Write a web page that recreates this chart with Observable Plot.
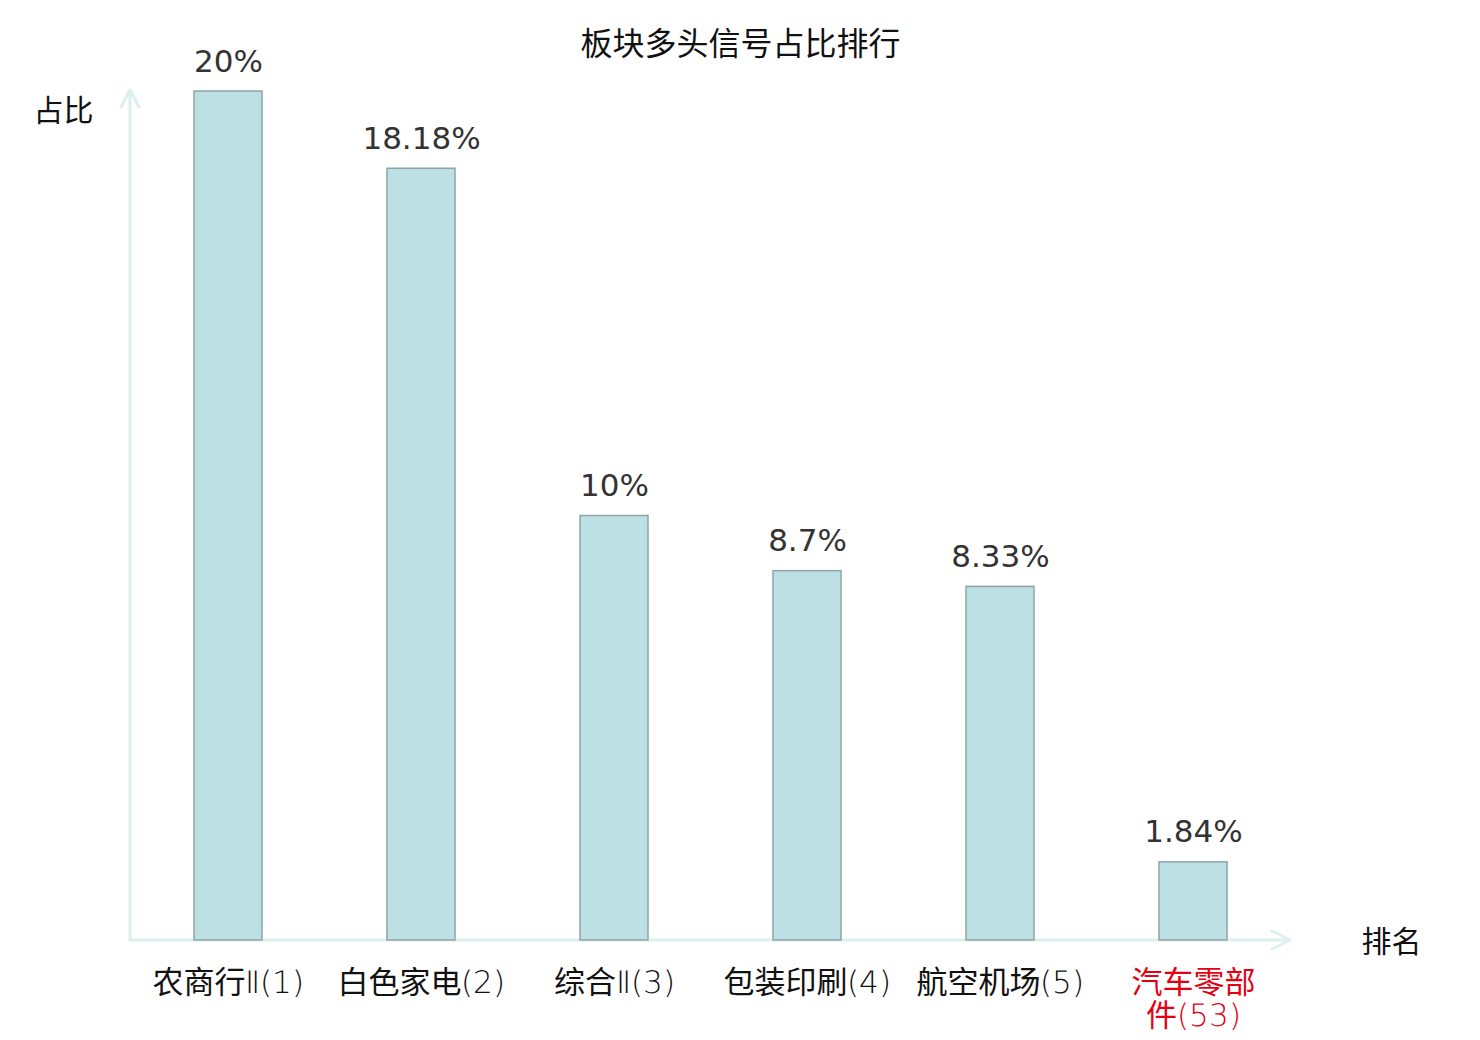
<!DOCTYPE html>
<html>
<head>
<meta charset="utf-8">
<script src="https://cdn.jsdelivr.net/npm/d3@7"></script>
<script src="https://cdn.jsdelivr.net/npm/@observablehq/plot@0.6"></script>
<style>
  html, body { margin: 0; padding: 0; background: #fff; }
  #chart svg { display: block; }
  @font-face {
    font-family: "RomanNum";
    src: local("DejaVu Sans ExtraLight"), local("DejaVuSans-ExtraLight"), local("DejaVu Sans");
    unicode-range: U+2160-217F;
  }
  @font-face {
    font-family: "ThinLatin";
    src: local("DejaVu Sans ExtraLight"), local("DejaVuSans-ExtraLight");
    unicode-range: U+0020-007F;
  }
</style>
</head>
<body>
<div id="chart"></div>
<script>
const categories = ["农商行Ⅱ", "白色家电", "综合Ⅱ", "包装印刷", "航空机场", "汽车零部件"];
const ranks = [1, 2, 3, 4, 5, 53];
const values = [20, 18.18, 10, 8.7, 8.33, 1.84];
const valueLabels = ["20%", "18.18%", "10%", "8.7%", "8.33%", "1.84%"];
const tickLabels = ["农商行Ⅱ(1)", "白色家电(2)", "综合Ⅱ(3)", "包装印刷(4)", "航空机场(5)", "汽车零部\n件(53)"];
const highlight = [false, false, false, false, false, true];

const title = "板块多头信号占比排行";
const yLabel = "占比";
const xLabel = "排名";

const data = categories.map((c, i) => ({
  name: c, rank: ranks[i], value: values[i],
  vlabel: valueLabels[i], tlabel: tickLabels[i], hl: highlight[i]
}));

const axisColor = "#dcf1ee";
const cjk = "'Noto Sans CJK SC', 'Noto Sans', sans-serif";
const tickFont = "RomanNum, ThinLatin, 'Noto Sans CJK SC', sans-serif";

function axisArrows(index, scales, values, dim) {
  const x0 = dim.marginLeft;
  const y0 = dim.height - dim.marginBottom;
  const top = dim.marginTop;
  const right = dim.width - dim.marginRight;
  const g = d3.create("svg:g")
    .attr("fill", "none")
    .attr("stroke", axisColor)
    .attr("stroke-width", 3)
    .attr("stroke-linecap", "round")
    .attr("stroke-linejoin", "round");
  g.append("path").attr("d", `M${x0},${y0}V${top}M${x0 - 9},${top + 17}L${x0},${top}L${x0 + 9},${top + 17}`);
  g.append("path").attr("d", `M${x0},${y0}H${right}M${right - 18},${y0 - 9}L${right},${y0}L${right - 18},${y0 + 9}`);
  return g.node();
}

const chart = Plot.plot({
  width: 1480,
  height: 1040,
  marginLeft: 130,
  marginRight: 190,
  marginTop: 90,
  marginBottom: 100,
  style: { background: "#fff", overflow: "visible" },
  x: { type: "band", domain: categories, paddingInner: 0.65, paddingOuter: 0.325, axis: null },
  y: { domain: [0, 20], range: [940, 91], axis: null },
  marks: [
    axisArrows,
    Plot.barY(data, { x: "name", y: "value", fill: "#bce0e3", stroke: "#8ca6a7", strokeWidth: 1.5 }),
    Plot.text(data, { x: "name", y: "value", text: "vlabel", lineAnchor: "bottom", dy: -20,
      fontSize: 31, fill: "#333", fontFamily: "'DejaVu Sans', sans-serif" }),
    Plot.text(data, { x: "name", y: () => 0, text: "tlabel", lineAnchor: "top", dy: 29, lineHeight: 1.06,
      fontSize: 31, fill: d => d.hl ? "#e50012" : "#111", fontFamily: tickFont }),
    Plot.text([title], { frameAnchor: "top", text: d => d, dx: 30, dy: -58, fontSize: 32, fill: "#111", fontFamily: cjk }),
    Plot.text([yLabel], { frameAnchor: "top-left", text: d => d, textAnchor: "middle", dx: -67, dy: 9, fontSize: 30, fill: "#111", fontFamily: cjk }),
    Plot.text([xLabel], { frameAnchor: "bottom-right", text: d => d, textAnchor: "middle", dx: 101, dy: 11, fontSize: 30, fill: "#111", fontFamily: cjk })
  ]
});
document.getElementById("chart").appendChild(chart);
</script>
</body>
</html>
